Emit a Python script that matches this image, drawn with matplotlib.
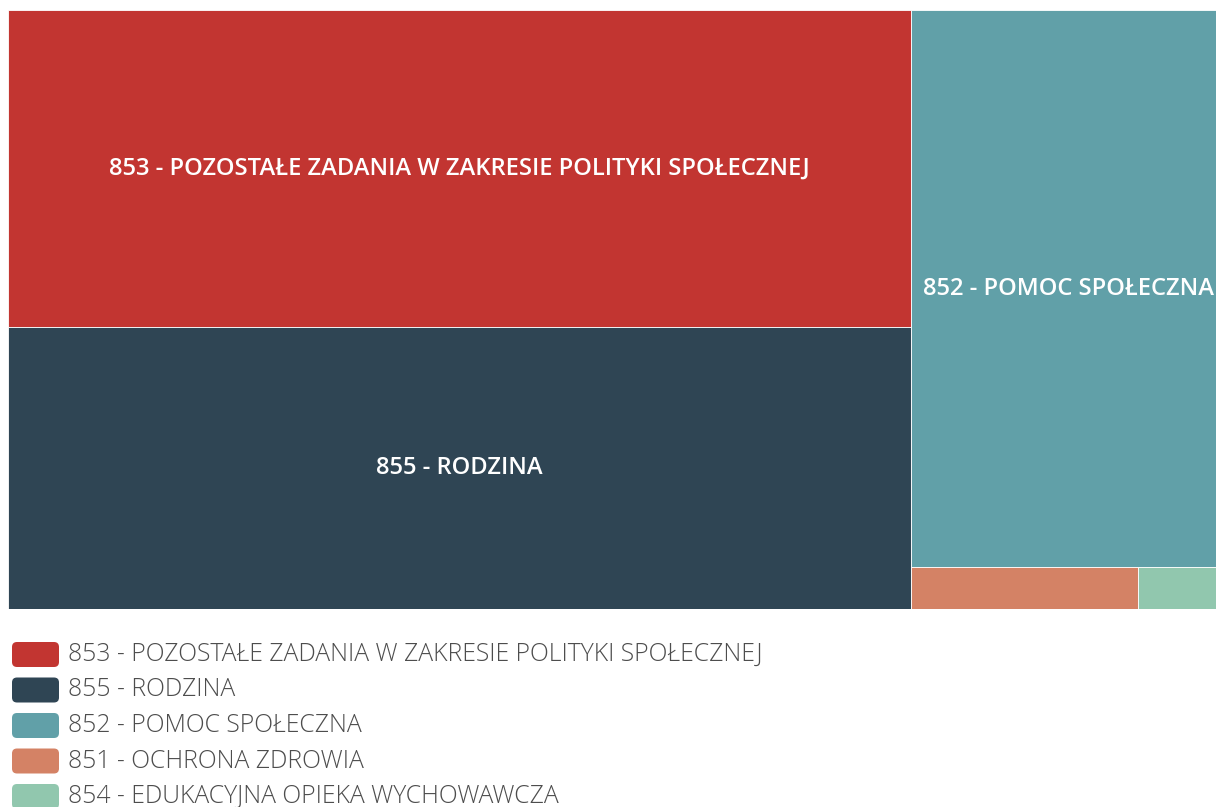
import matplotlib
matplotlib.use("Agg")
import matplotlib.pyplot as plt
from matplotlib.patches import Rectangle, FancyBboxPatch

# Budget chapters (division codes) and their amounts, mln PLN
labels = [
    "853 - POZOSTAŁE ZADANIA W ZAKRESIE POLITYKI SPOŁECZNEJ",
    "855 - RODZINA",
    "852 - POMOC SPOŁECZNA",
    "851 - OCHRONA ZDROWIA",
    "854 - EDUKACYJNA OPIEKA WYCHOWAWCZA",
]
values = [286.3, 254.6, 175.5, 9.5, 3.7]
colors = ["#c23531", "#2f4554", "#61a0a8", "#d48265", "#91c7ae"]

# Nested grouping of the tiles: columns -> stacked rows -> side-by-side cells
groups = [[0, 1], [2, [3, 4]]]

W, H = 1216, 807
fig = plt.figure(figsize=(W / 100, H / 100), dpi=100)
fig.patch.set_facecolor("white")

FONT = ["Open Sans", "DejaVu Sans"]


def node_sum(node):
    if isinstance(node, list):
        return sum(node_sum(n) for n in node)
    return values[node]


def layout(node, x, y, w, h, horizontal, out):
    if not isinstance(node, list):
        out[node] = (x, y, w, h)
        return
    total = node_sum(node)
    pos = 0.0
    for child in node:
        frac = node_sum(child) / total
        if horizontal:
            layout(child, x + pos * w, y, frac * w, h, not horizontal, out)
        else:
            layout(child, x, y + pos * h, w, frac * h, not horizontal, out)
        pos += frac


rects = {}
layout(groups, 0.0, 0.0, 1.0, 1.0, True, rects)

# Treemap area (extends slightly past the right edge of the canvas)
left_px, top_px, right_px, bottom_px = 8, 10, 1226, 609
ax = fig.add_axes([left_px / W, 1 - bottom_px / H,
                   (right_px - left_px) / W, (bottom_px - top_px) / H])
ax.set_xlim(0, 1)
ax.set_ylim(1, 0)
ax.axis("off")

for i, (x, y, w, h) in rects.items():
    ax.add_patch(Rectangle((x, y), w, h, facecolor=colors[i],
                           edgecolor="white", linewidth=0.6))
    # only tiles tall enough get a label
    if h * (bottom_px - top_px) > 60:
        ax.text(x + w / 2, y + h / 2, labels[i], ha="center", va="center",
                color="white", fontsize=17.1, family=FONT,
                fontweight="semibold", clip_on=False)

# Legend below the treemap
lg = fig.add_axes([0, 0, 1, 1])
lg.set_xlim(0, W)
lg.set_ylim(H, 0)
lg.axis("off")
row_y0, row_step = 654.5, 35.5
for i, lab in enumerate(labels):
    cy = row_y0 + i * row_step
    lg.add_patch(FancyBboxPatch((12, cy - 12.5), 47, 25,
                                boxstyle="round,pad=0,rounding_size=5",
                                facecolor=colors[i], edgecolor="none"))
    lg.text(68, cy, lab, ha="left", va="center", color="#4d4d4d",
            fontsize=17.8, family=FONT, fontweight="light")

fig.savefig("out.png", dpi=100)
